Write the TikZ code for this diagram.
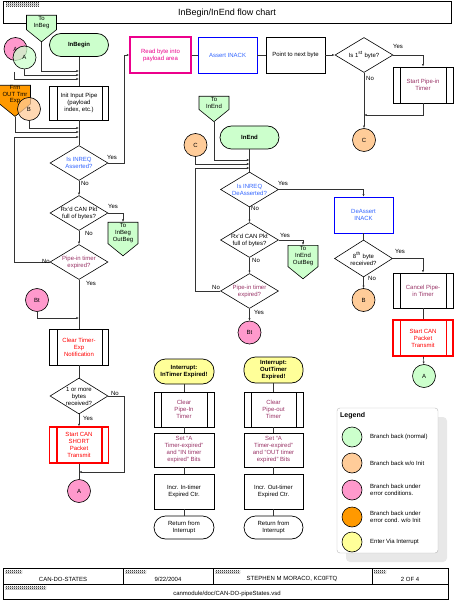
\documentclass[tikz,border=0pt]{standalone}
\usepackage{fontspec}
\setmainfont{Liberation Sans}
\usepackage{tikz}
\usetikzlibrary{arrows.meta,shapes.geometric,shapes.symbols,patterns}
\definecolor{mint}{HTML}{CCFFCC}
\definecolor{peach}{HTML}{FFCC99}
\definecolor{rose}{HTML}{FF99CC}
\definecolor{amber}{HTML}{FF9900}
\definecolor{lemon}{HTML}{FFFF99}
\definecolor{plum}{HTML}{993366}
\definecolor{inkblue}{HTML}{3366FF}
\definecolor{wirecol}{HTML}{333333}
\pgfdeclarepatternformonly{finechecker}{\pgfpointorigin}{\pgfpoint{2pt}{2pt}}{\pgfpoint{2pt}{2pt}}{%
  \pgfpathrectangle{\pgfpointorigin}{\pgfpoint{1pt}{1pt}}%
  \pgfpathrectangle{\pgfpoint{1pt}{1pt}}{\pgfpoint{1pt}{1pt}}%
  \pgfusepath{fill}}

\begin{document}
\begin{tikzpicture}[x=1pt,y=-1pt,
    font=\fontsize{6}{7}\selectfont,
    box/.style={draw=black,line width=0.7pt,fill=white,align=center,inner sep=1pt,
        minimum width=59,minimum height=35},
    predef/.style={box,path picture={
        \draw[line width=0.7pt,#1]
          ([xshift=7.5]path picture bounding box.north west) -- ([xshift=7.5]path picture bounding box.south west)
          ([xshift=-6.5]path picture bounding box.north east) -- ([xshift=-6.5]path picture bounding box.south east);}},
    predef/.default=black,
    term/.style={draw=black,line width=0.7pt,rounded corners=11.5,fill=white,
        minimum width=59,minimum height=23,align=center,inner sep=1pt},
    decide/.style={diamond,draw=black,line width=0.6pt,fill=white,minimum width=58,
        minimum height=35,inner sep=-1pt,shape aspect=1.7,align=center},
    jump/.style={circle,draw=black,line width=0.6pt,minimum size=23,inner sep=0pt},
    offpage/.style={signal,signal to=south,signal pointer angle=102,draw=black,
        line width=0.6pt,fill=mint,minimum width=30,inner sep=1pt,align=center,anchor=north},
    arrow/.style={-{Latex[length=2.6pt,width=2.2pt]},line width=0.6pt,draw=wirecol},
    wire/.style={line width=0.6pt,draw=wirecol},
    lab/.style={inner sep=0.5pt},
    legtxt/.style={anchor=west,align=left,inner sep=0pt}
]
\useasboundingbox (0,0) rectangle (454,601);
\fill[white] (0,0) rectangle (454,601);

% title bar
\draw[line width=0.9pt] (3,1) rectangle (451,23);
\fill[pattern=finechecker] (6,3) rectangle (39,7);
\node (title) at (227,13) {\fontsize{9}{10}\selectfont InBegin/InEnd flow chart};

% InBegin column
\node[offpage] (toinbeg) at (41.5,15) {To\\InBeg};
\node[term,fill=mint,font=\fontsize{6}{7}\selectfont\bfseries] (inbegin) at (79,45) {InBegin};
\node[jump,fill=rose] (pinkA) at (15.5,49) {A};
\node[jump,fill=mint,fill opacity=0.75,text opacity=1] (greenA) at (24.5,57.5) {A};
\node[predef,minimum height=34] (init) at (79,103) {Init Input Pipe\\(payload\\index, etc.)};
\node[offpage,fill=amber,minimum width=31,inner sep=0pt,font=\fontsize{6}{6.6}\selectfont] (frmout) at (15,85) {Frm\\OUT Tmr\\Exp};
\node[jump,fill=peach,fill opacity=0.75,text opacity=1] (peachB) at (29,109) {B};
\node[decide,text=inkblue] (isinreq) at (79,163) {Is INREQ\\Asserted?};
\node[decide] (rxfull) at (79,213) {Rx'd CAN Pkt\\full of bytes?};
\node[offpage] (toinbegout) at (123,222) {To\\InBeg\\OutBeg};
\node[decide,text=plum] (pipetmr) at (79,262) {Pipe-in timer\\expired?};
\node[jump,fill=rose] (btleft) at (37,300) {Bt};
\node[predef,minimum height=36,text=red] (clrtmr) at (79,347) {Clear Timer-\\Exp\\Notification};
\node[decide,minimum height=36] (anybytes) at (79,396) {1 or more\\bytes\\received?};
\node[predef={red,line width=1.2pt},draw=red,line width=1.2pt,minimum height=36,text=red] (shortxmit) at (79,445) {Start CAN\\SHORT\\Packet\\Transmit};
\node[jump,fill=rose] (pinkAbot) at (79,491) {A};

% top row
\node[box,draw=magenta,line width=1.3pt,text=magenta,minimum width=61,minimum height=36] (readbyte) at (160.5,55) {Read byte into\\payload area};
\node[box,draw=blue,text=inkblue,minimum height=36] (assert) at (227.5,55) {Assert INACK};
\node[box,minimum height=36] (nextbyte) at (295.5,55) {Point to next byte};
\node[decide] (isfirst) at (364,55) {Is 1\textsuperscript{st} byte?};
\node[predef,minimum width=60,minimum height=36,text=plum] (startpipe) at (423,85) {Start Pipe-in\\Timer};
\node[jump,fill=peach] (peachCtop) at (364,140) {C};

% InEnd column
\node[offpage] (toinend) at (214,96) {To\\InEnd};
\node[term,fill=mint,font=\fontsize{6}{7}\selectfont\bfseries] (inend) at (249.5,137.5) {InEnd};
\node[jump,fill=peach] (peachC) at (195.5,145) {C};
\node[decide,text=inkblue] (deassert) at (249.5,189.5) {Is INREQ\\DeAsserted?};
\node[decide] (rxfull2) at (249.5,240) {Rx'd CAN Pkt\\full of bytes?};
\node[offpage] (toinendout) at (303,245) {To\\InEnd\\OutBeg};
\node[decide,text=plum] (pipetmr2) at (249.5,291) {Pipe-in timer\\expired?};
\node[jump,fill=rose] (btmid) at (249.5,332.5) {Bt};

% right column
\node[box,draw=blue,text=inkblue,minimum height=36] (deassinack) at (363.5,215) {DeAssert\\INACK};
\node[decide,minimum height=37] (eighth) at (363.5,258.5) {8\textsuperscript{th} byte\\received?};
\node[jump,fill=peach] (peachBr) at (363.5,300) {B};
\node[predef,minimum width=60,text=plum] (cancel) at (423,290.5) {Cancel Pipe-\\in Timer};
\node[predef={red,line width=1.2pt},draw=red,line width=1.2pt,minimum width=60,minimum height=36,text=red] (canxmit) at (423,338) {Start CAN\\Packet\\Transmit};
\node[jump,fill=mint] (greenAr) at (424,376) {A};

% interrupt handlers
\node[term,fill=lemon,minimum width=60,minimum height=25,font=\fontsize{6}{7}\selectfont\bfseries] (intin) at (184,371.5) {Interrupt:\\InTimer Expired!};
\node[predef,minimum width=60,text=plum] (clrin) at (184,409.5) {Clear\\Pipe-In\\Timer};
\node[box,minimum width=60,minimum height=34,text=plum] (setin) at (184,450) {Set “A\\Timer-expired”\\and “IN timer\\expired” Bits};
\node[box,minimum width=60] (incrin) at (184,491.5) {Incr. In-timer\\Expired Ctr.};
\node[term,minimum width=60] (retin) at (184,527.5) {Return from\\Interrupt};
\node[term,fill=lemon,minimum width=59,minimum height=26,font=\fontsize{6}{7}\selectfont\bfseries] (intout) at (273.5,370) {Interrupt:\\OutTimer\\Expired!};
\node[predef,text=plum] (clrout) at (273.5,409.5) {Clear\\Pipe-out\\Timer};
\node[box,minimum height=34,text=plum] (setout) at (273.5,450) {Set “A\\Timer-expired”\\and “OUT timer\\expired” Bits};
\node[box] (incrout) at (273.5,491.5) {Incr. Out-timer\\Expired Ctr.};
\node[term] (retout) at (273.5,527.5) {Return from\\Interrupt};

% junction points on the main lines
\coordinate (jA1) at (79,71);
\coordinate (jA2) at (79,75);
\coordinate (jA3) at (79,79);
\coordinate (jB1) at (79,128);
\coordinate (jB2) at (79,132);
\coordinate (jL) at (79,137);
\coordinate (jBt) at (79,318);
\coordinate (jS) at (79,472);
\coordinate (jP) at (364,115);
\coordinate (jE1) at (249.5,160);
\coordinate (jE2) at (249.5,164);
\coordinate (jE3) at (249.5,168);

% InBegin connectors
\draw[wire] (inbegin) -- (init);
\draw[arrow] (toinbeg.270) |- (jA1);
\draw[arrow] (greenA.south) |- (jA2);
\draw[arrow] (pinkA.south) ++(-1,11) |- (jA3);
\draw[wire] (init) -- (isinreq);
\draw[arrow] (peachB.south) |- (jB1);
\draw[arrow] (frmout.270) |- (jB2);
\draw[arrow] (pipetmr.west) -- ++(-35,0) |- (jL);
\draw[arrow] (isinreq.east) -- ++(16,0) |- (readbyte.west);
\draw[arrow] (isinreq) -- (rxfull);
\draw[arrow] (rxfull.east) -| (toinbegout.north);
\draw[arrow] (rxfull) -- (pipetmr);
\draw[wire] (pipetmr) -- (clrtmr);
\draw[arrow] (btleft.south) |- (jBt);
\draw[wire] (clrtmr) -- (anybytes);
\draw[arrow] (anybytes) -- (shortxmit);
\draw[wire] (shortxmit) -- (pinkAbot);
\draw[arrow] (anybytes.east) -- ++(16,0) |- (jS);

% top row connectors
\draw[wire] (readbyte) -- (assert);
\draw[wire] (assert) -- (nextbyte);
\draw[arrow] (nextbyte) -- (isfirst);
\draw[arrow] (isfirst.east) -| (startpipe.north);
\draw[arrow] (isfirst) -- (peachCtop);
\draw[arrow] (startpipe.south) |- (jP);

% InEnd connectors
\draw[wire] (inend) -- (deassert);
\draw[arrow] (toinend.270) |- (jE1);
\draw[arrow] (peachC.south) |- (jE2);
\draw[arrow] (pipetmr2.west) -- ++(-25,0) |- (jE3);
\draw[arrow] (deassert.east) -| (deassinack.north);
\draw[arrow] (deassert) -- (rxfull2);
\draw[arrow] (rxfull2.east) -| (toinendout.north);
\draw[arrow] (rxfull2) -- (pipetmr2);
\draw[arrow] (pipetmr2) -- (btmid);

% right column connectors
\draw[wire] (deassinack) -- (eighth);
\draw[arrow] (eighth) -- (peachBr);
\draw[arrow] (eighth.east) -| (cancel.north);
\draw[wire] (cancel) -- (canxmit);
\draw[arrow] (canxmit) -- (greenAr);

% interrupt connectors
\draw[wire] (intin) -- (clrin);
\draw[wire] (clrin) -- (setin);
\draw[wire] (setin) -- (incrin);
\draw[wire] (incrin) -- (retin);
\draw[wire] (intout) -- (clrout);
\draw[wire] (clrout) -- (setout);
\draw[wire] (setout) -- (incrout);
\draw[wire] (incrout) -- (retout);

% branch labels
\node[lab] (y1) at (112,157) {Yes};
\node[lab] (n1) at (85,183) {No};
\node[lab] (y2) at (113,206) {Yes};
\node[lab] (n2) at (89,233) {No};
\node[lab] (n3) at (46,261) {No};
\node[lab] (y3) at (91,283) {Yes};
\node[lab] (n4) at (115,393) {No};
\node[lab] (y4) at (88,418) {Yes};
\node[lab] (y5) at (398,46) {Yes};
\node[lab] (n5) at (370,78) {No};
\node[lab] (y6) at (283,183) {Yes};
\node[lab] (n6) at (255,208) {No};
\node[lab] (y7) at (285,235) {Yes};
\node[lab] (n7) at (256,260) {No};
\node[lab] (n8) at (216,287) {No};
\node[lab] (y8) at (259,312) {Yes};
\node[lab] (y9) at (400,251) {Yes};
\node[lab] (n9) at (372,278) {No};

% legend
\fill[gray!18,rounded corners=4] (346,417) rectangle (447,562);
\draw[gray!55,fill=white,rounded corners=3] (337,408) rectangle (438,553);
\node[anchor=west,inner sep=0pt,font=\fontsize{7}{8}\selectfont\bfseries] (legend) at (340,416) {Legend};
\node[jump,fill=mint,minimum size=20] (leg1) at (352,437) {};
\node[jump,fill=peach,minimum size=20] (leg2) at (352,463) {};
\node[jump,fill=rose,minimum size=20] (leg3) at (352,490) {};
\node[jump,fill=amber,minimum size=20] (leg4) at (352,517) {};
\node[jump,fill=lemon,minimum size=20] (leg5) at (352,542) {};
\node[legtxt] (legt1) at (370,437) {Branch back (normal)};
\node[legtxt] (legt2) at (370,463) {Branch back w/o Init};
\node[legtxt] (legt3) at (370,490) {Branch back under\\error conditions.};
\node[legtxt] (legt4) at (370,517) {Branch back under\\error cond. w/o Init};
\node[legtxt] (legt5) at (370,542) {Enter Via Interrupt};

% title block
\draw[line width=0.6pt] (3,568) rectangle (448,599.5);
\draw[line width=0.6pt] (3,584) -- (448,584)
  (123,568) -- (123,584) (213,568) -- (213,584) (372,568) -- (372,584);
\fill[pattern=finechecker] (5,570) rectangle (22,573);
\fill[pattern=finechecker] (125,570) rectangle (146,573);
\fill[pattern=finechecker] (215,570) rectangle (240,573);
\fill[pattern=finechecker] (374,570) rectangle (386,573);
\fill[pattern=finechecker] (5,586) rectangle (46,589);
\node (fname) at (63,579) {CAN-DO-STATES};
\node (fdate) at (168,579) {9/22/2004};
\node (fauth) at (292,579) {STEPHEN M MORACO, KC0FTQ};
\node (fpage) at (410,579) {2 OF 4};
\node (fpath) at (227,594) {canmodule/doc/CAN-DO-pipeStates.vsd};
\end{tikzpicture}
\end{document}
